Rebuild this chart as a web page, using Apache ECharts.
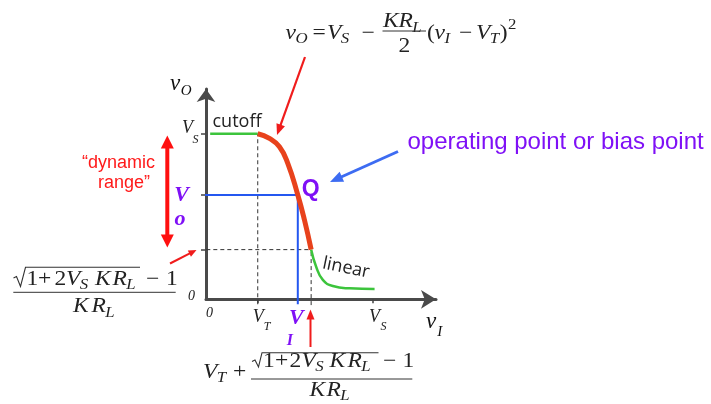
<!DOCTYPE html>
<html>
<head>
<meta charset="utf-8">
<script src="https://cdn.jsdelivr.net/npm/echarts@6/dist/echarts.min.js"></script>
<style>
  html, body { margin: 0; padding: 0; background: #fff; }
  #chart { width: 711px; height: 404px; }
</style>
</head>
<body>
<div id="chart"></div>
<script>
// Voltage transfer characteristic of a MOSFET amplifier (V_S normalised to 10)
const VS = 10;
const VT = 3.1;
const VI_Q = 5.5;          // bias input
const VO_Q = 6.3;          // bias output
const EDGE_X = 6.3;        // end of the amplifying region (input)
const EDGE_Y = 3.0;        // output at that point

const cutoffX = [0.25, 3.1];
const cutoffY = [10, 10];
const satX = [3.1, 3.8, 4.4, 4.9, 5.5, 5.9, 6.3];
const satY = [10, 9.72, 9.21, 8.21, 6.3, 4.79, 3.0];
const linX = [6.3, 6.6, 7.0, 7.6, 8.6, 10.1];
const linY = [3.0, 1.97, 1.17, 0.80, 0.66, 0.62];

const xTickValues = [3.1, 10];
const yTickValues = [3.0, 6.3, 10];

const X_MAX = 13.78;
const Y_MAX = 12.70;

const RED = '#e8421c';
const GREEN = '#3cc43c';
const BLUE = '#2457f0';
const PURPLE = '#7f10f6';
const SERIF = 'Liberation Serif';
const SANS = 'Liberation Sans';

const zip = (xs, ys) => xs.map((x, i) => [x, ys[i]]);

const chart = echarts.init(document.getElementById('chart'), null, { renderer: 'canvas' });

const axisLine = (size) => ({
  show: true,
  symbol: ['none', 'arrow'],
  symbolSize: size,
  lineStyle: { color: '#4a4a4a', width: 3 }
});

const plain = (data, color, width, extra) => Object.assign({
  type: 'line', data: data, symbol: 'none', silent: true, clip: false,
  lineStyle: { color: color, width: width }
}, extra || {});
const dashed = (data) => plain(data, '#333', 1, { lineStyle: { color: '#333', width: 1, type: [4, 3] } });

chart.setOption({
  animation: false,
  grid: { left: 206, right: 275, top: 89, bottom: 104.7 },
  xAxis: {
    type: 'value', min: 0, max: X_MAX,
    axisLine: axisLine([14, 15]),
    axisTick: { show: true, customValues: xTickValues, length: 4, lineStyle: { color: '#444', width: 1.5 } },
    axisLabel: { show: false },
    splitLine: { show: false }
  },
  yAxis: {
    type: 'value', min: 0, max: Y_MAX,
    axisLine: axisLine([14, 13]),
    axisTick: { show: true, customValues: yTickValues, length: 5, lineStyle: { color: '#444', width: 1.5 } },
    axisLabel: { show: false },
    splitLine: { show: false }
  },
  series: [
    dashed([[VT, -0.3], [VT, VS]]),
    dashed([[-0.4, EDGE_Y], [EDGE_X, EDGE_Y]]),
    dashed([[EDGE_X, -0.35], [EDGE_X, EDGE_Y]]),
    plain([[-0.35, VO_Q], [VI_Q, VO_Q], [VI_Q, -0.3]], BLUE, 2),
    plain(zip(cutoffX, cutoffY), GREEN, 2.5),
    plain(zip(linX, linY), GREEN, 2.5, { smooth: true }),
    plain(zip(satX, satY), RED, 5, { smooth: true })
  ]
});

// ---- text and arrow helpers ----
const MATH_SX = 1.12;   // widen the serif glyphs a little
const measureCtx = document.createElement('canvas').getContext('2d');
function fontOf(o) {
  return (o.it ? 'italic ' : '') + (o.b ? 'bold ' : '') + (o.fs || 21) + 'px "' + (o.ff || SERIF) + '"';
}
function t(x, y, text, o) {
  o = o || {};
  return {
    type: 'text', x: x, y: y, rotation: o.rot || 0, scaleX: o.sx || 1, silent: true, z: 100,
    style: {
      text: text, fill: o.c || '#222',
      fontFamily: o.ff || SERIF, fontSize: o.fs || 21,
      fontStyle: o.it ? 'italic' : 'normal', fontWeight: o.b ? 'bold' : 'normal',
      align: o.a || 'left', verticalAlign: 'middle',
      textAlign: o.a || 'left', textVerticalAlign: 'middle'
    }
  };
}
// A row of math glyphs: tokens with `at` start there, the rest follow the previous glyph.
function row(list, y, tokens) {
  let cx = 0;
  tokens.forEach(([s, o]) => {
    o = Object.assign({ sx: MATH_SX }, o || {});
    if (o.at !== undefined) cx = o.at;
    cx += o.pre || 0;
    list.push(t(cx, y + (o.dy || 0), s, o));
    measureCtx.font = fontOf(o);
    cx += measureCtx.measureText(s).width * o.sx;
  });
}
function hline(x1, x2, y, w) {
  return { type: 'line', silent: true, z: 100, shape: { x1: x1, y1: y, x2: x2, y2: y },
    style: { stroke: '#333', lineWidth: w || 1 } };
}
function radical(pts) {
  return { type: 'polyline', silent: true, z: 100, shape: { points: pts },
    style: { stroke: '#333', lineWidth: 1.1, fill: null } };
}
function arrow(x1, y1, x2, y2, c, w, hl, hw, both) {
  const dx = x2 - x1, dy = y2 - y1, L = Math.hypot(dx, dy);
  const ux = dx / L, uy = dy / L, px = -uy, py = ux;
  const head = (hx, hy, sx, sy) => ({
    type: 'polygon', silent: true, z: 90,
    shape: { points: [
      [hx, hy],
      [hx - sx * hl + px * hw / 2, hy - sy * hl + py * hw / 2],
      [hx - sx * hl - px * hw / 2, hy - sy * hl - py * hw / 2]
    ] },
    style: { fill: c }
  });
  const s = both ? hl * 0.8 : 0;
  const els = [{
    type: 'line', silent: true, z: 90,
    shape: { x1: x1 + ux * s, y1: y1 + uy * s, x2: x2 - ux * hl * 0.8, y2: y2 - uy * hl * 0.8 },
    style: { stroke: c, lineWidth: w }
  }, head(x2, y2, ux, uy)];
  if (both) els.push(head(x1, y1, -ux, -uy));
  return els;
}

const P = (x, y) => chart.convertToPixel({ gridIndex: 0 }, [x, y]);
const o0 = P(0, 0), pVS = P(0, VS), pVT = P(VT, 0), pXS = P(VS, 0), pQ = P(VI_Q, VO_Q);

const I = (at) => ({ it: true, at: at });
const R = (at) => ({ at: at });
const SUB = { it: true, fs: 15, dy: 6, pre: -0.5 };
const g = [];

// axis labels
g.push(t(pVS[0] - 13, pVS[1] - 5.5, 'V', { it: true, fs: 18, a: 'right' }));
g.push(t(pVS[0] - 13.5, pVS[1] + 6, 'S', { it: true, fs: 12 }));
g.push(t(o0[0] - 14.5, o0[1] - 2.5, '0', { it: true, fs: 14, a: 'center' }));
g.push(t(o0[0] + 3.5, o0[1] + 14, '0', { it: true, fs: 14, a: 'center' }));
g.push(t(pVT[0] + 6, pVT[1] + 17.5, 'V', { it: true, fs: 18, a: 'right' }));
g.push(t(pVT[0] + 6, pVT[1] + 27.5, 'T', { it: true, fs: 12 }));
g.push(t(pXS[0] + 7, pXS[1] + 17.5, 'V', { it: true, fs: 18, a: 'right' }));
g.push(t(pXS[0] + 7.5, pXS[1] + 27.5, 'S', { it: true, fs: 12 }));
row(g, 322, [['v', { it: true, fs: 23, c: '#111', at: 426, sx: 1 }], ['I', { it: true, fs: 15, c: '#111', dy: 10, pre: 1, sx: 1 }]]);
row(g, 84, [['v', { it: true, fs: 23, c: '#111', at: 170, sx: 1 }], ['O', { it: true, fs: 15, c: '#111', dy: 7, pre: 0.5, sx: 1 }]]);

// bias-point labels
g.push(t(o0[0] - 24.5, pQ[1], 'V', { it: true, b: true, fs: 22, c: PURPLE, a: 'center' }));
g.push(t(o0[0] - 26, pQ[1] + 24, 'o', { it: true, b: true, fs: 22, c: PURPLE, a: 'center' }));
g.push(t(pQ[0] - 1.5, o0[1] + 19, 'V', { it: true, b: true, fs: 22, c: PURPLE, a: 'center' }));
g.push(t(pQ[0] - 8, o0[1] + 42, 'I', { it: true, b: true, fs: 16, c: PURPLE, a: 'center' }));
g.push(t(pQ[0] + 4, pQ[1] - 5, 'Q', { ff: SANS, b: true, fs: 23, c: PURPLE }));

// region names
g.push(t(212.5, 121.5, 'cutoff', { ff: 'Open Sans', fs: 18, c: '#222' }));
g.push(t(346, 268, 'linear', { ff: 'Open Sans', fs: 18, c: '#222', a: 'center', rot: -0.2 }));

// callouts
g.push(t(407.5, 142.5, 'operating point or bias point', { ff: SANS, fs: 24, c: PURPLE }));
g.push(t(155, 163.5, '\u201Cdynamic', { ff: SANS, fs: 18, c: '#ff1a1a', a: 'right' }));
g.push(t(150, 183.5, 'range\u201D', { ff: SANS, fs: 18, c: '#ff1a1a', a: 'right' }));

arrow(305, 57, 277, 135, '#f01c1c', 2.2, 11, 9).forEach(e => g.push(e));
arrow(170, 263.5, 196.5, 250, '#f01c1c', 2, 8, 7).forEach(e => g.push(e));
arrow(310.5, 347, 310.5, 309.5, '#f01c1c', 2, 10, 8).forEach(e => g.push(e));
arrow(167.3, 135.5, 167.3, 247.5, '#ff1010', 4, 13, 13, true).forEach(e => g.push(e));
arrow(398, 151.5, 330, 182, '#3d6cf2', 3, 13, 11).forEach(e => g.push(e));

// v_O = V_S - (K R_L / 2)(v_I - V_T)^2
row(g, 33.3, [
  ['v', I(285.5)], ['O', SUB],
  ['=', R(312.5)],
  ['V', I(327)], ['S', SUB],
  ['\u2212', R(361.5)],
  ['(', R(427)], ['v', I(434.5)], ['I', SUB],
  ['\u2212', R(459)],
  ['V', I(476)], ['T', SUB], [')', { pre: 0.5 }], ['2', { fs: 15, dy: -8.5, pre: 0.5 }]
]);
row(g, 21.7, [['K', I(383)], ['R', I(398.5)], ['L', SUB]]);
g.push(hline(382.5, 426, 31));
g.push(t(404.5, 46.5, '2', { a: 'center', sx: MATH_SX }));

// (sqrt(1 + 2 V_S K R_L) - 1) / (K R_L)  next to the axis
g.push(radical([[13.5, 278], [16.5, 276.5], [20.5, 286.5], [25.5, 267.3], [140, 267.3]]));
row(g, 279.5, [
  ['1', R(26.5)], ['+', R(38)], ['2', R(54.5)],
  ['V', I(66)], ['S', SUB],
  ['K', I(95)], ['R', I(112.5)], ['L', SUB],
  ['\u2212', R(146)], ['1', R(166)]
]);
g.push(hline(13.3, 175.7, 292.3));
row(g, 306.7, [['K', I(73)], ['R', I(91.5)], ['L', SUB]]);

// V_T + (sqrt(1 + 2 V_S K R_L) - 1) / (K R_L)  under the axis
row(g, 372, [['V', I(203)], ['T', SUB], ['+', R(233)]]);
g.push(radical([[252, 361.5], [255, 360], [258.5, 367], [262, 352.7], [378.5, 352.7]]));
row(g, 361, [
  ['1', R(263)], ['+', R(275)], ['2', R(289.5)],
  ['V', I(301.5)], ['S', SUB],
  ['K', I(329.5)], ['R', I(347.5)], ['L', SUB],
  ['\u2212', R(383)], ['1', R(402.5)]
]);
g.push(hline(251, 412.3, 379));
row(g, 390, [['K', I(309.5)], ['R', I(326.5)], ['L', SUB]]);

chart.setOption({ graphic: { elements: g } });
</script>
</body>
</html>
